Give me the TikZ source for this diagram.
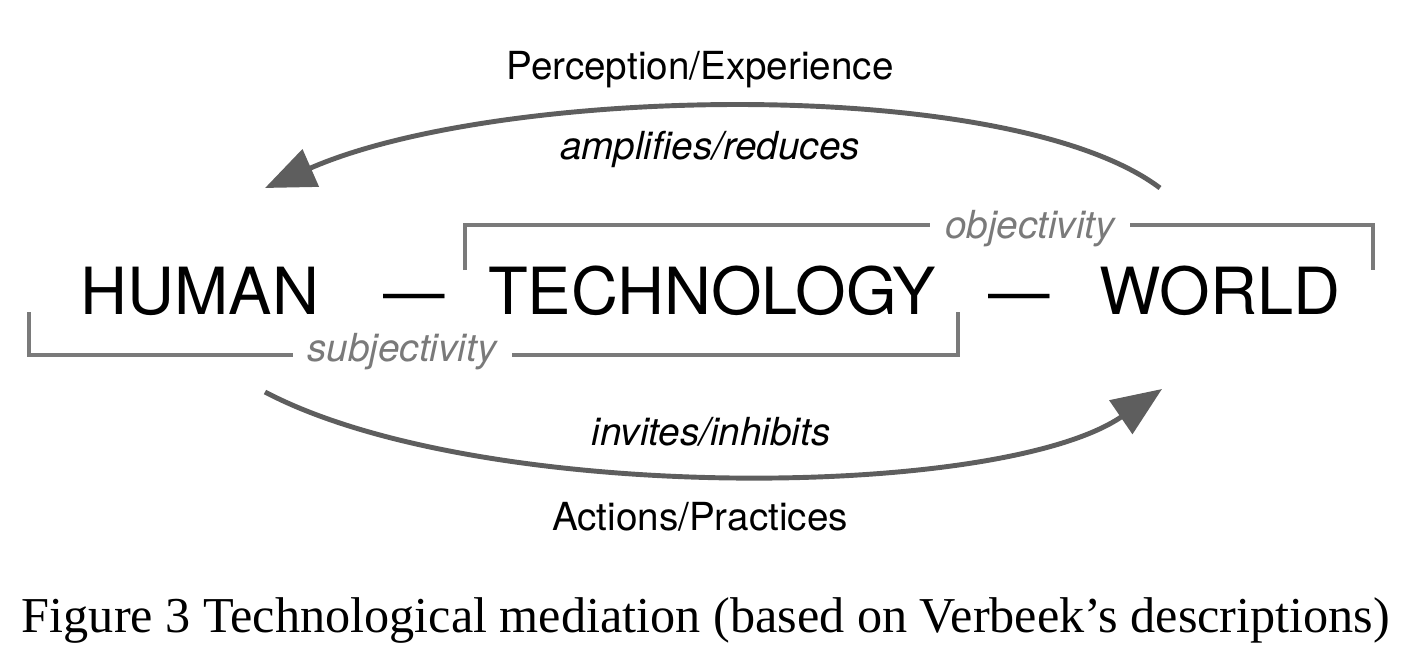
\documentclass[tikz,border=0pt]{standalone}
\usepackage{fontspec}
\setmainfont{Liberation Serif}
\newfontfamily\labelfont{TeX Gyre Heros}
\usetikzlibrary{arrows.meta}
\definecolor{arrowgray}{HTML}{5E5E5E}
\definecolor{bracketgray}{HTML}{7A7A7A}

\begin{document}
\begin{tikzpicture}[x=0.02cm, y=-0.02cm,
  bigword/.style={anchor=base, font=\labelfont\fontsize{37}{40}\selectfont},
  dashword/.style={anchor=base, font=\labelfont\fontsize{35}{38}\selectfont},
  flowtext/.style={anchor=base, font=\labelfont\fontsize{22}{26}\selectfont},
  verbtext/.style={anchor=base, font=\labelfont\itshape\fontsize{22}{26}\selectfont},
  poletext/.style={anchor=base, text=bracketgray, fill=white, inner xsep=0.3cm,
    font=\labelfont\itshape\fontsize{22}{26}\selectfont},
  bracket/.style={draw=bracketgray, line width=2.3pt},
  flow/.style={draw=arrowgray, line width=2.8pt, -{Triangle[length=1cm, width=0.8cm]}}
]
  \useasboundingbox (0,0) rectangle (1406,662);
  % the three terms
  \node[bigword] (human) at (200,314) {HUMAN};
  \node[dashword] (dashA) at (414,313) {—};
  \node[bigword] (tech) at (712,314) {TECHNOLOGY};
  \node[dashword] (dashB) at (1019,313) {—};
  \node[bigword] (world) at (1220,314) {WORLD};
  % brackets
  \coordinate (objL) at (465,270);
  \coordinate (objR) at (1373,270);
  \draw[bracket] (objL) -- ++(0,-45) -| (objR);
  \node[poletext] (obj) at (1030,238) {objectivity};
  \coordinate (subjL) at (29,312);
  \coordinate (subjR) at (958,312);
  \draw[bracket] (subjL) -- ++(0,43) -| (subjR);
  \node[poletext] (subj) at (402,361) {subjectivity};
  % perception arc
  \coordinate (worldtop) at (1160,188);
  \coordinate (humantop) at (265,188);
  \draw[flow] (worldtop) .. controls (1010,75) and (500,85) .. (humantop);
  \node[flowtext] (percep) at (700,80) {Perception/Experience};
  \node[verbtext] (amp) at (710,160) {amplifies/reduces};
  % action arc
  \coordinate (humanbot) at (265,392);
  \coordinate (worldbot) at (1162,389);
  \draw[flow] (humanbot) .. controls (480,505) and (1000,500) .. (worldbot);
  \node[verbtext] (inv) at (711,445) {invites/inhibits};
  \node[flowtext] (act) at (700,530) {Actions/Practices};
  % caption
  \node[anchor=base, font=\fontsize{28.6}{32}\selectfont] (caption) at (706,632)
    {Figure 3 Technological mediation (based on Verbeek’s descriptions)};
\end{tikzpicture}
\end{document}
